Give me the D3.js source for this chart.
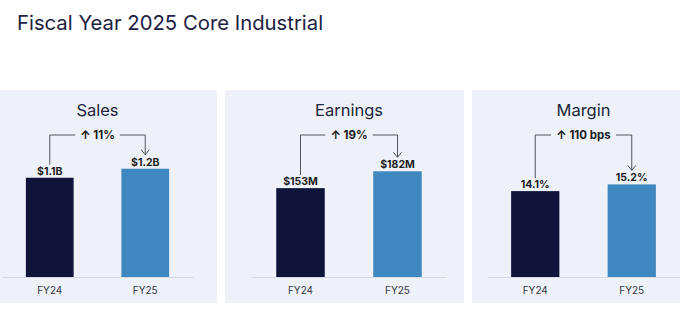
<!DOCTYPE html>
<html>
<head>
<meta charset="utf-8">
<script src="https://cdn.jsdelivr.net/npm/d3@7"></script>
<style>
  html, body { margin: 0; padding: 0; background: #ffffff; }
  svg { display: block; }
  text { font-family: Inter, "Noto Sans", "Liberation Sans", sans-serif; }
</style>
</head>
<body>
<div id="chart"></div>
<script>
// ---- data ----
const years = ["FY24", "FY25"];
const metricNames = ["Sales", "Earnings", "Margin"];
const salesValues = [1.1, 1.2];
const earningsValues = [153, 182];
const marginValues = [14.1, 15.2];
const salesLabels = ["$1.1B", "$1.2B"];
const earningsLabels = ["$153M", "$182M"];
const marginLabels = ["14.1%", "15.2%"];
const changeLabels = ["\u2191 11%", "\u2191 19%", "\u2191 110 bps"];
// top of each panel's value axis (the bars start at zero)
const axisMax = [1.33, 206.6, 19.7];

const series = [salesValues, earningsValues, marginValues];
const valueLabels = [salesLabels, earningsLabels, marginLabels];

// ---- layout ----
const W = 680, H = 323;
const panelBoxes = [[-22, 217], [225, 464], [472, 711]];
const plotRanges = [[2, 193], [252, 446], [487, 680]];
const panelTop = 90, panelBottom = 303;
const baseY = 277, topY = 157;
const elbowY = 135;
const barColors = ["#11143a", "#3f88bf"];

const svg = d3.select("#chart").append("svg")
  .attr("width", W).attr("height", H);

svg.append("rect").attr("width", W).attr("height", H).attr("fill", "#ffffff");

svg.append("text")
  .attr("x", 17).attr("y", 30)
  .attr("font-size", 20.3)
  .attr("fill", "#1b2142")
  .text("Fiscal Year 2025 Core Industrial");

metricNames.forEach((name, i) => {
  const g = svg.append("g");
  const [px0, px1] = panelBoxes[i];

  g.append("rect")
    .attr("x", px0).attr("y", panelTop)
    .attr("width", px1 - px0).attr("height", panelBottom - panelTop)
    .attr("fill", "#eef2f8");

  const x = d3.scaleBand()
    .domain(years)
    .range(plotRanges[i])
    .paddingInner(0.5)
    .paddingOuter(0.25);

  const y = d3.scaleLinear()
    .domain([0, axisMax[i]])
    .range([baseY, topY]);

  const vals = series[i];
  const cx = d => x(d) + x.bandwidth() / 2;

  // panel title
  g.append("text")
    .attr("x", (cx(years[0]) + cx(years[1])) / 2)
    .attr("y", 115.5)
    .attr("text-anchor", "middle")
    .attr("font-size", 16.5)
    .attr("fill", "#22263a")
    .text(name);

  // category axis
  const axis = g.append("g")
    .attr("transform", `translate(0,${baseY})`)
    .call(d3.axisBottom(x).tickSize(0).tickPadding(10).tickSizeOuter(0));
  axis.select(".domain").attr("stroke", "#d6dae2").attr("stroke-width", 1);
  axis.selectAll("text")
    .attr("font-size", 10)
    .attr("fill", "#333640")
    .style("font-family", "Inter, 'Noto Sans', sans-serif");

  // bars
  g.selectAll("rect.bar")
    .data(years)
    .join("rect")
    .attr("class", "bar")
    .attr("x", d => x(d))
    .attr("width", x.bandwidth())
    .attr("y", (d, j) => y(vals[j]))
    .attr("height", (d, j) => baseY - y(vals[j]))
    .attr("fill", (d, j) => barColors[j]);

  // value labels
  g.selectAll("text.val")
    .data(years)
    .join("text")
    .attr("class", "val")
    .attr("x", d => cx(d))
    .attr("y", (d, j) => y(vals[j]) - 3)
    .attr("text-anchor", "middle")
    .attr("font-size", 10.5)
    .attr("font-weight", 700)
    .attr("fill", "#1c1c22")
    .text((d, j) => valueLabels[i][j]);

  // change annotation: elbow connector from FY24 to FY25
  const xa = cx(years[0]), xb = cx(years[1]);
  const ya = y(vals[0]) - 13, yb = y(vals[1]) - 14;
  const mid = (xa + xb) / 2;

  const label = g.append("text")
    .attr("x", mid).attr("y", elbowY + 4)
    .attr("text-anchor", "middle")
    .attr("font-size", 11.5)
    .attr("font-weight", 700)
    .attr("fill", "#1c1c22")
    .text(changeLabels[i]);
  const half = label.node().getBBox().width / 2 + 5;

  const stroke = "#50545f";
  g.append("path")
    .attr("d", `M${xa},${ya}V${elbowY}H${mid - half}`)
    .attr("fill", "none").attr("stroke", stroke).attr("stroke-width", 1);
  g.append("path")
    .attr("d", `M${mid + half},${elbowY}H${xb}V${yb}`)
    .attr("fill", "none").attr("stroke", stroke).attr("stroke-width", 1);
  g.append("path")
    .attr("d", `M${xb - 4},${yb - 5}L${xb},${yb}L${xb + 4},${yb - 5}`)
    .attr("fill", "none").attr("stroke", stroke).attr("stroke-width", 1);
});
</script>
</body>
</html>
